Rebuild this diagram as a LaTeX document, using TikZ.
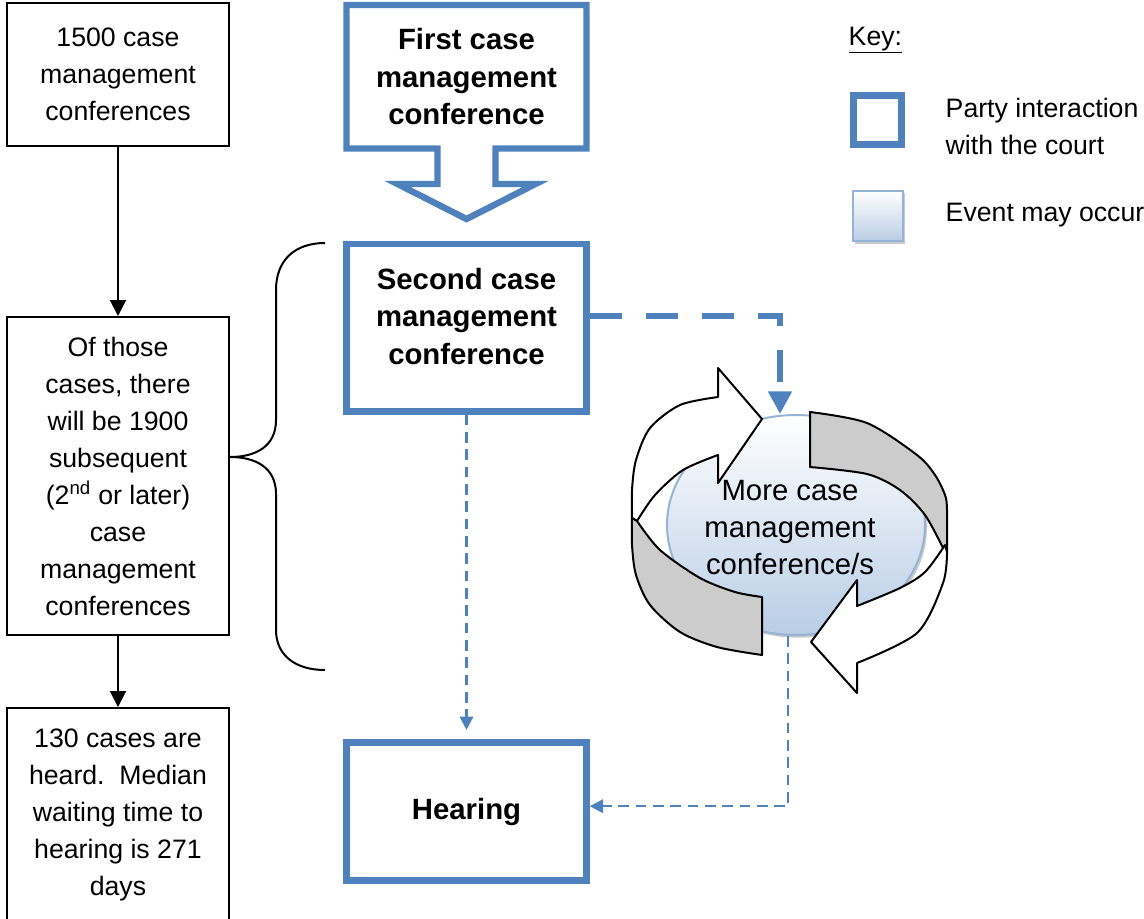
\documentclass[tikz,border=0pt]{standalone}
\usepackage{fontspec}
\setmainfont{Liberation Sans}
\usetikzlibrary{arrows.meta,positioning,shapes.geometric,shadows}

\definecolor{partyblue}{RGB}{79,129,189}
\definecolor{eventline}{RGB}{149,179,215}
\definecolor{eventfill}{RGB}{185,205,229}
\definecolor{ringgray}{RGB}{204,204,204}

\newcommand{\plainsize}{\fontsize{20}{27.75}\selectfont}
\newcommand{\boldsize}{\fontsize{22}{28}\selectfont\bfseries}
\newcommand{\bigsize}{\fontsize{22}{27.75}\selectfont}

\begin{document}
\begin{tikzpicture}[x=0.75pt, y=-0.75pt,
    fact/.style={draw, line width=1.5pt, minimum width=166.5pt, align=center, font=\plainsize},
    party/.style={draw=partyblue, line width=4.8pt, minimum width=180pt, align=center, font=\boldsize},
    event/.style={draw=eventline, line width=1.5pt, top color=white, bottom color=eventfill,
        drop shadow={shadow xshift=1.5pt, shadow yshift=-2pt, fill=black!35, opacity=.6}},
    ring/.style={draw=black, line width=1.5pt, line join=round},
    flow/.style={line width=1.5pt, -{Triangle[width=12pt,length=12pt]}},
    maybe/.style={draw=partyblue, line width=1.7pt, dash pattern=on 8pt off 5pt, -{Triangle[width=10pt,length=10pt]}},
    again/.style={draw=partyblue, line width=5pt, dash pattern=on 24pt off 18pt, -{Triangle[width=17pt,length=17pt]}}]

    \useasboundingbox (0,0) rectangle (1144,918);

    % left column
    \node[fact, minimum height=107.25pt]                           (cmc)   at (118,74.5) {1500 case\\management\\conferences};
    \node[fact, minimum height=238.5pt, below=126.75pt of cmc]     (subs)  {Of those\\cases, there\\will be 1900\\subsequent\\(2\textsuperscript{nd} or later)\\case\\management\\conferences};
    \node[fact, minimum height=159.75pt, below=53.25pt of subs]    (heard) {130 cases are\\heard.\ \ Median\\waiting time to\\hearing is 271\\days};

    % middle column
    \node[party, draw=none, outer sep=0pt, minimum height=107.6pt] (first)   at (466.5,76.75) {First case\\management\\conference};
    \node[party, minimum height=125.6pt,
        label={[font=\boldsize, align=center, yshift=8.5pt]center:{Second case\\management\\conference}}] (second) at (466.5,327.75) {};
    \node[party, minimum height=103.5pt]                           (hearing) at (466.5,811.5) {Hearing};

    \draw[party] ([xshift=-21.75pt]first.south) -- (first.south west) |- (first.north east) -- (first.south east)
        -- ([xshift=21.75pt]first.south) -- ++(0,35.5) -- ++(40,0) -- ++(-69,35) -- ++(-69,-35) -- ++(40,0) -- cycle;

    % repeat loop
    \node[event, ellipse, minimum width=193.5pt, minimum height=165pt] (more) at (796,525) {};

    \filldraw[ring, fill=ringgray] (810,412) -- (810,467)
        -- plot[smooth] coordinates {(810,467) (867,474) (900,490) (925,515) (945,552)}
        -- plot[smooth] coordinates {(947,552) (947,510) (945,495) (935,475) (917,455) (867,423) (810,412)} -- cycle;
    \filldraw[ring, fill=white] (718,455) -- (718,483) -- (762,419) -- (718,368) -- (718,397)
        -- plot[smooth] coordinates {(718,397) (680,405) (650,428) (636,460) (632,490) (632,518)}
        -- plot[smooth] coordinates {(637,521) (655,495) (683,470) (718,455)} -- cycle;
    \filldraw[ring, fill=ringgray] (762,597) -- (762,655)
        -- plot[smooth] coordinates {(762,655) (717,647) (680,632) (650,605) (636,575) (632,545) (632,518)}
        -- plot[smooth] coordinates {(637,521) (660,550) (700,578) (735,592) (762,597)} -- cycle;
    \filldraw[ring, fill=white] (857,606) -- (857,580) -- (811,642) -- (857,693) -- (857,663)
        -- plot[smooth] coordinates {(857,663) (917,633) (943,583) (947,552)}
        -- plot[smooth] coordinates {(945,545) (925,572) (900,588) (857,606)} -- cycle;

    \node[font=\bigsize, align=center] (moretxt) at (790,528) {More case\\management\\conference/s};

    % key
    \node[font=\plainsize, anchor=west]              (key)         at (844,40) {\underline{Key:}};
    \node[draw=partyblue, line width=4.8pt, minimum width=36pt, minimum height=36.75pt] (keyparty) at (877.5,120) {};
    \node[font=\plainsize, align=left, anchor=west]  (keypartytxt) at (941,126) {Party interaction\\with the court};
    \node[event, minimum width=37.5pt, minimum height=38pt] (keyevent) at (877.5,216) {};
    \node[font=\plainsize, anchor=west]              (keyeventtxt) at (941,215) {Event may occur};

    % connectors
    \draw[flow] (cmc) -- (subs);
    \draw[flow] (subs) -- (heard);
    \draw[line width=1.5pt] (325,243) .. controls (295,243) and (276,260) .. (276,290) -- (276,420)
        .. controls (276,447) and (255,457) .. (230,457) .. controls (255,457) and (276,467) .. (276,494)
        -- (276,630) .. controls (276,655) and (295,670) .. (325,670);
    \draw[again] ([yshift=8.8pt]second.east) -| ([xshift=-12pt]more.north);
    \draw[maybe, shorten >=7pt] (second) -- (hearing);
    \draw[maybe] ([xshift=-6pt]more.south) |- ([yshift=4pt]hearing.east);

\end{tikzpicture}
\end{document}
